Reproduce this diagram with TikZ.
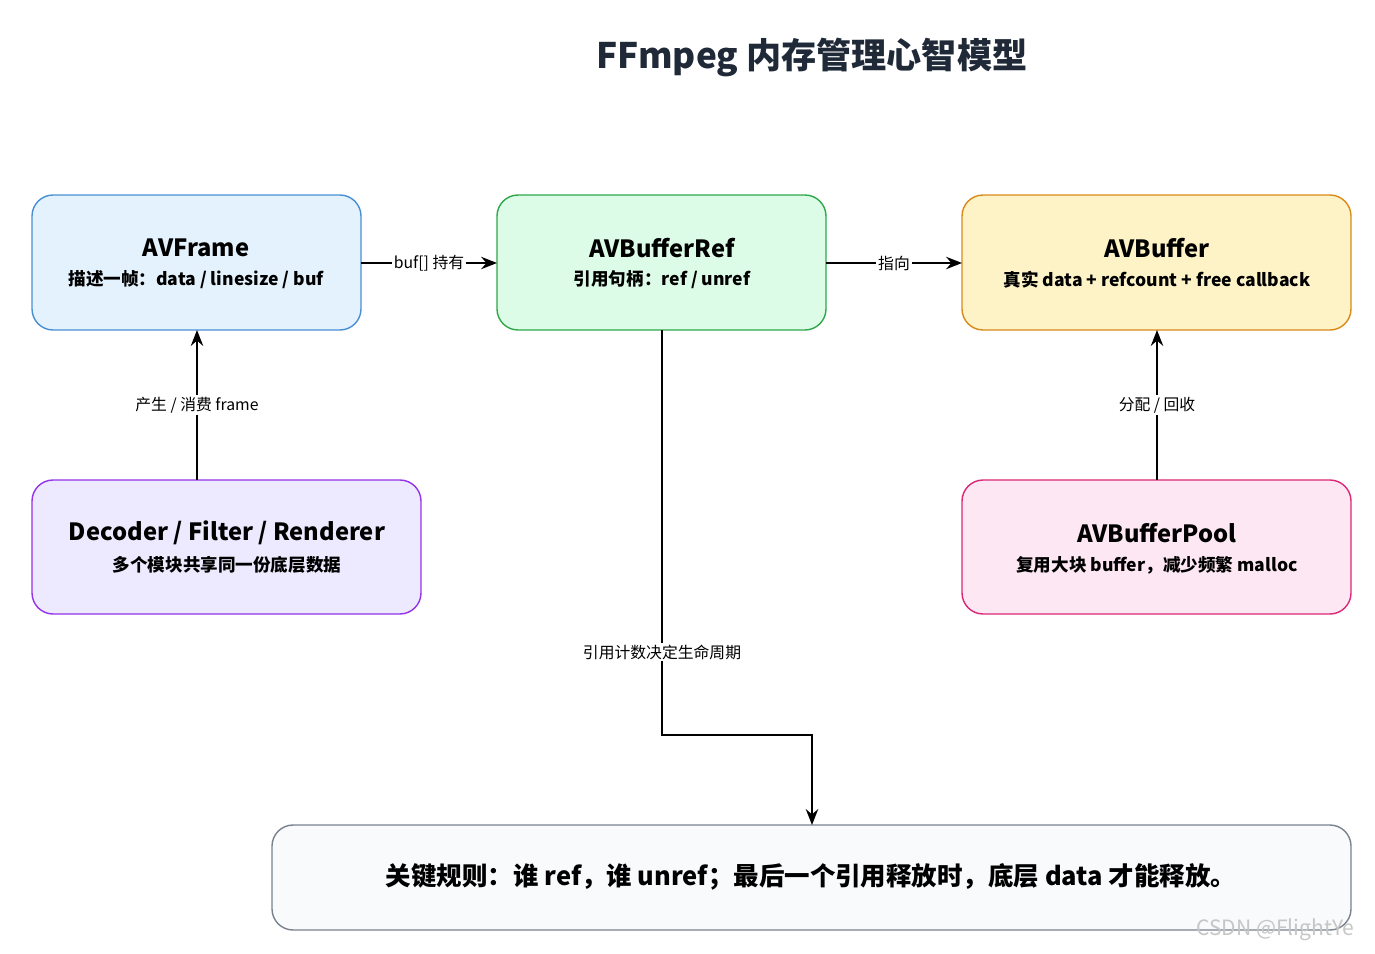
\documentclass[tikz,border=0pt]{standalone}
\usepackage{fontspec}
\setmainfont{Noto Sans CJK SC}
\newfontfamily\cjkb[BoldFont={Noto Sans CJK SC Bold}]{Noto Sans CJK SC}
\usetikzlibrary{arrows.meta}
\definecolor{bfill}{HTML}{E3F2FD}\definecolor{bdraw}{HTML}{4A8FD4}
\definecolor{gfill}{HTML}{DCFCE7}\definecolor{gdraw}{HTML}{2EA84A}
\definecolor{yfill}{HTML}{FEF3C7}\definecolor{ydraw}{HTML}{D98A1A}
\definecolor{pfill}{HTML}{EDE9FE}\definecolor{pdraw}{HTML}{9333EA}
\definecolor{kfill}{HTML}{FCE7F3}\definecolor{kdraw}{HTML}{DB2777}
\definecolor{sfill}{HTML}{F8FAFC}\definecolor{sdraw}{HTML}{7A828E}
\definecolor{ttl}{HTML}{1F2937}
\begin{document}
\begin{tikzpicture}[x=0.02cm,y=-0.02cm,
  box/.style={rounded corners=12pt,line width=0.8pt},
  arr/.style={-{Stealth[length=9pt,width=7pt]},line width=1.3pt},
  lbl/.style={fill=white,inner sep=1pt,font=\fontsize{9}{10}\selectfont}]
\useasboundingbox (0,0) rectangle (1375,953);
\node[font=\fontsize{20}{22}\selectfont\bfseries,text=ttl] (title) at (812,58) {FFmpeg 内存管理心智模型};
\draw[box,fill=bfill,draw=bdraw] (32,195) rectangle (361,330);
\draw[box,fill=gfill,draw=gdraw] (497,195) rectangle (826,330);
\draw[box,fill=yfill,draw=ydraw] (962,195) rectangle (1351,330);
\draw[box,fill=pfill,draw=pdraw] (32,480) rectangle (421,614);
\draw[box,fill=kfill,draw=kdraw] (962,480) rectangle (1351,614);
\draw[box,fill=sfill,draw=sdraw] (272,825) rectangle (1351,930);
\coordinate (fr) at (361,263); \coordinate (rl) at (497,263);
\coordinate (rr) at (826,263); \coordinate (bl) at (962,263);
\coordinate (fb) at (197,330); \coordinate (dt) at (197,480);
\coordinate (bb) at (1157,330); \coordinate (pt) at (1157,480);
\coordinate (rb) at (662,330); \coordinate (c1) at (662,735); \coordinate (c2) at (812,735); \coordinate (st) at (812,825);
\node[font=\fontsize{13.5}{15}\selectfont\bfseries] (t1) at (196,248) {AVFrame};
\node[font=\fontsize{10}{12}\selectfont\bfseries] (s1) at (196,280) {描述一帧：data / linesize / buf};
\node[font=\fontsize{13.5}{15}\selectfont\bfseries] (t2) at (662,248) {AVBufferRef};
\node[font=\fontsize{10}{12}\selectfont\bfseries] (s2) at (662,280) {引用句柄：ref / unref};
\node[font=\fontsize{13.5}{15}\selectfont\bfseries] (t3) at (1157,248) {AVBuffer};
\node[font=\fontsize{10}{12}\selectfont\bfseries] (s3) at (1157,280) {真实 data + refcount + free callback};
\node[font=\fontsize{13.5}{15}\selectfont\bfseries] (t4) at (227,533) {Decoder / Filter / Renderer};
\node[font=\fontsize{10}{12}\selectfont\bfseries] (s4) at (227,565) {多个模块共享同一份底层数据};
\node[font=\fontsize{13.5}{15}\selectfont\bfseries] (t5) at (1157,533) {AVBufferPool};
\node[font=\fontsize{10}{12}\selectfont\bfseries] (s5) at (1157,565) {复用大块 buffer，减少频繁 malloc};
\node[font=\fontsize{14.5}{16}\selectfont\bfseries] (t6) at (811,877) {关键规则：谁 ref，谁 unref；最后一个引用释放时，底层 data 才能释放。};
\draw[arr] (fr) -- node[lbl]{buf[] 持有} (rl);
\draw[arr] (rr) -- node[lbl]{指向} (bl);
\draw[arr] (dt) -- node[lbl,pos=0.5]{产生 / 消费 frame} (fb);
\draw[arr] (pt) -- node[lbl]{分配 / 回收} (bb);
\draw[arr] (rb) -- (c1) -- (c2) -- (st);
\node[lbl] (l6) at (662,652) {引用计数决定生命周期};
\node[font=\fontsize{12}{14}\selectfont,text=gray!45] (wm) at (1275,930) {CSDN @FlightYe};
\end{tikzpicture}
\end{document}
